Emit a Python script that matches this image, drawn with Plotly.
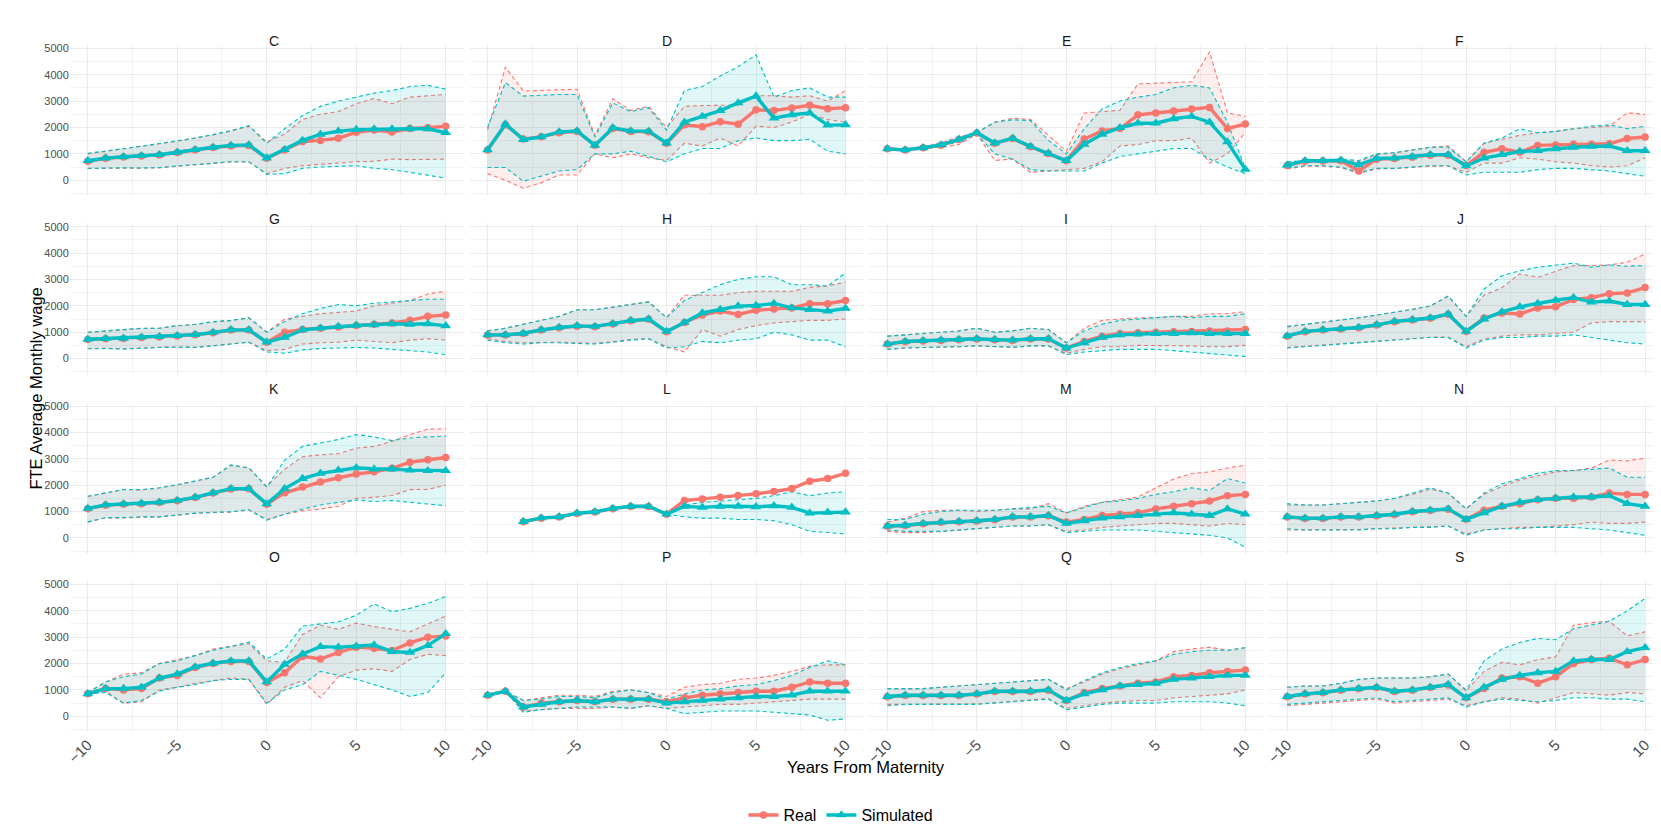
import plotly.graph_objects as go
from plotly.subplots import make_subplots

years = list(range(-10, 11))
facets = ["C", "D", "E", "F", "G", "H", "I", "J", "K", "L", "M", "N", "O", "P", "Q", "S"]
y_ticks = [0, 1000, 2000, 3000, 4000, 5000]
x_ticks = [-10, -5, 0, 5, 10]

# mean / lower / upper per sector, years -10..10
C_real = [720, 830, 880, 920, 960, 1050, 1150, 1240, 1300, 1320, 830, 1150, 1470, 1510, 1590, 1820, 1900, 1830, 1960, 1990, 2050]
C_real_lo = [440, 460, 460, 460, 470, 530, 590, 640, 690, 690, 250, 450, 550, 600, 650, 700, 720, 800, 780, 780, 800]
C_real_hi = [1000, 1090, 1190, 1280, 1380, 1480, 1590, 1720, 1860, 2050, 1450, 1750, 2300, 2500, 2600, 2900, 3100, 2900, 3150, 3200, 3250]
C_sim = [740, 840, 890, 930, 970, 1060, 1160, 1250, 1320, 1340, 840, 1160, 1510, 1740, 1860, 1920, 1940, 1940, 1950, 1950, 1800]
C_sim_lo = [450, 470, 470, 460, 480, 540, 600, 650, 700, 700, 220, 250, 450, 500, 520, 550, 450, 400, 300, 180, 80]
C_sim_hi = [1020, 1100, 1200, 1290, 1390, 1490, 1600, 1730, 1880, 2070, 1400, 1950, 2450, 2800, 3000, 3150, 3300, 3400, 3550, 3600, 3450]

D_real = [1150, 2100, 1560, 1650, 1800, 1850, 1330, 1960, 1850, 1840, 1400, 2100, 2030, 2220, 2120, 2670, 2640, 2740, 2840, 2710, 2750]
D_real_lo = [250, 0, -300, -100, 200, 200, 1000, 850, 1000, 850, 750, 1400, 1300, 1600, 1300, 2050, 2000, 2200, 2500, 2300, 2200]
D_real_hi = [1900, 4290, 3380, 3400, 3420, 3450, 1700, 3090, 2650, 2800, 2000, 2800, 2830, 2830, 2850, 3200, 3200, 3150, 3200, 3000, 3400]
D_sim = [1150, 2130, 1540, 1640, 1830, 1870, 1320, 1990, 1870, 1860, 1410, 2200, 2420, 2640, 2930, 3190, 2350, 2480, 2550, 2090, 2100]
D_sim_lo = [480, 480, -40, 150, 350, 400, 1000, 1000, 1100, 900, 700, 1000, 1200, 1200, 1500, 1600, 1500, 1500, 1550, 1100, 1000]
D_sim_hi = [2000, 3700, 3190, 3220, 3250, 3250, 1640, 2930, 2600, 2750, 1900, 3400, 3550, 3950, 4300, 4750, 3150, 3400, 3500, 3150, 3150]

E_real = [1190, 1150, 1230, 1330, 1540, 1790, 1400, 1580, 1270, 1010, 740, 1560, 1870, 1960, 2480, 2550, 2620, 2700, 2760, 1960, 2130]
E_real_lo = [1150, 1100, 1200, 1250, 1350, 1750, 750, 800, 300, 350, 400, 450, 700, 1300, 1350, 1500, 1500, 1600, 650, 1000, 1800]
E_real_hi = [1200, 1150, 1250, 1420, 1650, 1800, 2200, 2350, 2300, 1700, 1100, 2550, 2610, 2650, 3650, 3670, 3700, 3730, 4870, 2550, 2420]
E_sim = [1190, 1150, 1230, 1340, 1550, 1800, 1410, 1590, 1280, 1020, 740, 1360, 1740, 1990, 2160, 2160, 2330, 2420, 2200, 1450, 410]
E_sim_lo = [1150, 1100, 1200, 1300, 1450, 1750, 1000, 800, 400, 350, 350, 350, 650, 900, 1000, 1100, 1200, 1200, 800, 500, 250]
E_sim_hi = [1200, 1150, 1250, 1400, 1550, 1800, 2200, 2290, 2260, 1510, 1000, 1950, 2700, 3000, 3150, 3250, 3500, 3600, 3500, 2200, 450]

F_real = [560, 720, 730, 740, 350, 800, 820, 870, 950, 950, 560, 1060, 1190, 1060, 1320, 1340, 1360, 1360, 1380, 1580, 1640]
F_real_lo = [430, 530, 530, 480, 250, 430, 440, 480, 530, 540, 300, 650, 650, 850, 800, 700, 650, 550, 500, 550, 850]
F_real_hi = [650, 720, 740, 780, 700, 980, 1030, 1130, 1250, 1300, 700, 1400, 1550, 1700, 1800, 1850, 1950, 2000, 2050, 2550, 2500]
F_sim = [570, 740, 740, 760, 580, 830, 840, 890, 970, 970, 540, 840, 970, 1090, 1120, 1190, 1250, 1280, 1300, 1120, 1120]
F_sim_lo = [450, 550, 550, 500, 300, 450, 450, 500, 550, 550, 200, 300, 300, 300, 400, 450, 450, 400, 350, 250, 150]
F_sim_hi = [700, 750, 750, 800, 750, 1000, 1050, 1150, 1250, 1250, 700, 1400, 1600, 1950, 1800, 1850, 1950, 2050, 2100, 1950, 2050]

G_real = [720, 750, 760, 800, 820, 860, 900, 980, 1080, 1080, 620, 1000, 1100, 1150, 1200, 1250, 1300, 1350, 1450, 1600, 1650]
G_real_lo = [380, 390, 370, 410, 430, 440, 430, 490, 560, 630, 300, 350, 550, 600, 620, 700, 650, 600, 700, 750, 700]
G_real_hi = [990, 1040, 1090, 1140, 1150, 1240, 1290, 1390, 1440, 1540, 1000, 1500, 1600, 1700, 1750, 1800, 2000, 2100, 2200, 2450, 2550]
G_sim = [730, 760, 770, 810, 830, 870, 910, 990, 1090, 1090, 620, 800, 1090, 1150, 1220, 1260, 1280, 1320, 1300, 1320, 1240]
G_sim_lo = [370, 380, 360, 400, 420, 430, 420, 480, 550, 620, 250, 200, 330, 380, 400, 420, 400, 350, 300, 250, 150]
G_sim_hi = [1000, 1050, 1100, 1150, 1150, 1250, 1300, 1400, 1450, 1550, 1000, 1400, 1700, 1900, 2050, 2000, 2100, 2150, 2200, 2250, 2250]

H_real = [890, 890, 950, 1080, 1170, 1230, 1210, 1310, 1430, 1490, 1020, 1370, 1650, 1800, 1670, 1830, 1880, 1920, 2080, 2080, 2200]
H_real_lo = [750, 650, 600, 620, 620, 600, 580, 640, 720, 760, 450, 250, 1100, 850, 1100, 1250, 1350, 1400, 1450, 1450, 1500]
H_real_hi = [1050, 1150, 1300, 1450, 1600, 1850, 1850, 1950, 2050, 2150, 1550, 2400, 2400, 2400, 2500, 2550, 2550, 2550, 2700, 2750, 2900]
H_sim = [900, 900, 960, 1090, 1180, 1240, 1220, 1320, 1440, 1500, 1030, 1370, 1730, 1860, 1990, 2010, 2090, 1920, 1860, 1800, 1900]
H_sim_lo = [700, 600, 550, 600, 600, 580, 550, 620, 700, 750, 400, 450, 650, 600, 700, 750, 1000, 900, 700, 700, 450]
H_sim_hi = [1050, 1150, 1300, 1450, 1600, 1850, 1850, 1950, 2050, 2150, 1550, 2200, 2500, 2800, 3000, 3100, 3100, 2800, 2800, 2750, 3250]

I_real = [550, 640, 670, 690, 710, 740, 710, 690, 740, 740, 400, 650, 850, 950, 980, 1000, 1020, 1030, 1050, 1050, 1100]
I_real_lo = [350, 400, 420, 430, 450, 480, 450, 430, 480, 480, 200, 350, 450, 450, 500, 500, 500, 480, 450, 450, 500]
I_real_hi = [850, 900, 950, 1000, 1050, 1150, 1000, 1050, 1150, 1100, 600, 1150, 1450, 1500, 1550, 1550, 1600, 1600, 1700, 1700, 1780]
I_sim = [550, 650, 680, 700, 720, 750, 720, 700, 750, 750, 400, 600, 800, 900, 930, 950, 950, 970, 950, 950, 950]
I_sim_lo = [350, 400, 420, 430, 450, 480, 450, 430, 480, 480, 150, 250, 300, 350, 350, 350, 300, 250, 200, 150, 80]
I_sim_hi = [850, 900, 950, 1000, 1050, 1150, 1000, 1050, 1150, 1100, 600, 1050, 1300, 1450, 1500, 1550, 1600, 1550, 1600, 1600, 1700]

J_real = [850, 1020, 1080, 1120, 1170, 1270, 1400, 1460, 1530, 1680, 1030, 1540, 1730, 1690, 1920, 1960, 2240, 2310, 2460, 2490, 2690]
J_real_lo = [420, 470, 510, 560, 610, 660, 710, 760, 810, 820, 450, 750, 850, 900, 900, 950, 1000, 1350, 1400, 1400, 1400]
J_real_hi = [1200, 1290, 1390, 1460, 1540, 1640, 1740, 1860, 1990, 2350, 1600, 2400, 2690, 3210, 3080, 3300, 3530, 3530, 3550, 3650, 3970]
J_sim = [860, 1030, 1090, 1130, 1180, 1280, 1410, 1470, 1540, 1690, 1030, 1500, 1770, 1960, 2090, 2210, 2310, 2140, 2180, 2050, 2050]
J_sim_lo = [400, 450, 500, 550, 600, 650, 700, 750, 800, 800, 400, 700, 800, 800, 850, 850, 900, 800, 700, 600, 550]
J_sim_hi = [1220, 1300, 1400, 1470, 1550, 1650, 1750, 1870, 2000, 2370, 1600, 2630, 3140, 3330, 3460, 3550, 3620, 3460, 3550, 3500, 3530]

K_real = [1110, 1240, 1280, 1300, 1340, 1410, 1530, 1700, 1850, 1860, 1280, 1710, 1930, 2120, 2280, 2420, 2510, 2640, 2870, 2960, 3050]
K_real_lo = [610, 760, 760, 790, 800, 860, 930, 960, 980, 1060, 700, 900, 1030, 1090, 1200, 1500, 1540, 1610, 1830, 1840, 2000]
K_real_hi = [1570, 1690, 1830, 1820, 1890, 2010, 2140, 2290, 2750, 2650, 1950, 2600, 3080, 3150, 3190, 3400, 3470, 3660, 3920, 4120, 4140]
K_sim = [1120, 1250, 1290, 1310, 1350, 1420, 1540, 1710, 1870, 1870, 1290, 1870, 2250, 2450, 2570, 2660, 2610, 2610, 2570, 2550, 2550]
K_sim_lo = [600, 770, 770, 800, 800, 860, 940, 970, 990, 1070, 670, 900, 1090, 1250, 1350, 1440, 1380, 1420, 1350, 1290, 1220]
K_sim_hi = [1580, 1700, 1840, 1830, 1900, 2020, 2150, 2300, 2770, 2660, 1930, 2950, 3470, 3600, 3730, 3920, 3830, 3690, 3790, 3830, 3860]

L_real = [None, None, 610, 750, 790, 930, 980, 1110, 1190, 1190, 900, 1420, 1480, 1540, 1610, 1670, 1760, 1870, 2150, 2250, 2450]
L_real_lo = [None, None, None, None, None, None, None, None, None, None, None, None, None, None, None, None, None, None, None, None, None]
L_real_hi = [None, None, None, None, None, None, None, None, None, None, None, None, None, None, None, None, None, None, None, None, None]
L_sim = [None, None, 620, 760, 800, 940, 990, 1120, 1200, 1200, 900, 1200, 1160, 1200, 1200, 1180, 1220, 1160, 940, 970, 980]
L_sim_lo = [None, None, None, None, None, None, None, None, None, None, 900, 800, 750, 750, 700, 700, 650, 500, 250, 200, 150]
L_sim_hi = [None, None, None, None, None, None, None, None, None, None, 950, 1250, 1350, 1400, 1450, 1500, 1600, 1750, 1600, 1700, 1750]

M_real = [440, 470, 540, 590, 610, 640, 690, 790, 790, 840, 600, 700, 850, 900, 950, 1100, 1200, 1300, 1400, 1600, 1650]
M_real_lo = [250, 200, 200, 250, 300, 350, 400, 450, 450, 500, 250, 300, 400, 450, 500, 550, 550, 500, 450, 550, 500]
M_real_hi = [600, 750, 1000, 1050, 1050, 1000, 1050, 1100, 1100, 1300, 950, 1200, 1350, 1450, 1550, 1900, 2230, 2440, 2500, 2650, 2760]
M_sim = [450, 480, 550, 600, 620, 650, 700, 800, 800, 850, 550, 650, 750, 800, 850, 900, 950, 900, 850, 1100, 900]
M_sim_lo = [300, 250, 250, 250, 300, 350, 400, 450, 450, 500, 200, 250, 300, 300, 300, 250, 200, 150, 100, 0, -350]
M_sim_hi = [700, 700, 900, 1000, 1050, 1050, 1050, 1100, 1150, 1200, 950, 1150, 1350, 1400, 1500, 1650, 1750, 1900, 1800, 2250, 2080]

N_real = [790, 740, 740, 790, 790, 840, 890, 990, 1040, 1090, 710, 1050, 1200, 1300, 1450, 1500, 1500, 1550, 1700, 1650, 1650]
N_real_lo = [300, 300, 300, 300, 320, 350, 370, 400, 420, 450, 150, 300, 350, 400, 400, 450, 500, 600, 550, 550, 600]
N_real_hi = [1250, 1250, 1250, 1300, 1350, 1400, 1500, 1650, 1850, 1700, 1100, 1650, 1950, 2200, 2350, 2500, 2550, 2650, 2950, 2920, 3020]
N_sim = [800, 750, 750, 800, 800, 850, 900, 1000, 1050, 1100, 700, 950, 1200, 1350, 1450, 1500, 1550, 1550, 1600, 1300, 1200]
N_sim_lo = [350, 300, 300, 300, 300, 350, 350, 400, 400, 450, 100, 300, 350, 350, 400, 400, 400, 350, 300, 200, 100]
N_sim_hi = [1300, 1250, 1250, 1300, 1350, 1400, 1500, 1700, 1900, 1700, 1100, 1700, 2050, 2250, 2450, 2550, 2560, 2600, 2650, 2300, 2300]

O_real = [850, 1050, 1000, 1050, 1450, 1550, 1850, 2000, 2080, 2080, 1280, 1650, 2270, 2170, 2420, 2620, 2580, 2490, 2780, 3000, 3040]
O_real_lo = [850, 950, 500, 550, 1000, 1100, 1250, 1350, 1450, 1400, 450, 1100, 1350, 700, 1500, 1750, 1800, 1700, 2150, 2350, 2300]
O_real_hi = [900, 1300, 1600, 1650, 2000, 2150, 2300, 2550, 2650, 2750, 2100, 2050, 3100, 3450, 3300, 3530, 3400, 3300, 3200, 3500, 3800]
O_sim = [850, 1050, 1050, 1100, 1450, 1600, 1870, 2010, 2100, 2100, 1300, 1970, 2360, 2640, 2620, 2650, 2700, 2450, 2420, 2680, 3130]
O_sim_lo = [850, 900, 500, 600, 950, 1100, 1200, 1350, 1400, 1400, 500, 1000, 1200, 1700, 1550, 1400, 1200, 1000, 750, 900, 1650]
O_sim_hi = [900, 1300, 1500, 1600, 2000, 2100, 2300, 2500, 2650, 2810, 2170, 2550, 3420, 3510, 3580, 3830, 4260, 3960, 4090, 4280, 4540]

P_real = [800, 950, 350, 500, 550, 600, 550, 650, 650, 650, 550, 700, 800, 850, 900, 950, 950, 1100, 1300, 1250, 1250]
P_real_lo = [800, 950, 200, 250, 300, 300, 300, 350, 300, 400, 300, 350, 400, 450, 450, 500, 550, 600, 650, 650, 650]
P_real_hi = [800, 950, 600, 700, 800, 800, 750, 950, 1000, 900, 750, 1100, 1200, 1250, 1400, 1450, 1550, 1700, 1900, 1950, 1950]
P_sim = [800, 950, 350, 450, 550, 600, 550, 650, 650, 650, 500, 550, 600, 650, 700, 750, 750, 800, 950, 950, 950]
P_sim_lo = [800, 950, 150, 250, 300, 350, 350, 350, 300, 400, 300, 100, 150, 200, 200, 200, 150, 100, 50, -150, -100]
P_sim_hi = [800, 950, 600, 650, 750, 750, 700, 900, 1000, 900, 650, 850, 1000, 1050, 1150, 1200, 1350, 1550, 1850, 2100, 1950]

Q_real = [740, 790, 790, 790, 790, 840, 940, 940, 940, 990, 600, 900, 1050, 1150, 1250, 1300, 1500, 1550, 1650, 1700, 1750]
Q_real_lo = [450, 450, 450, 450, 450, 470, 520, 570, 620, 670, 300, 400, 500, 550, 600, 600, 700, 750, 800, 850, 1000]
Q_real_hi = [1050, 1050, 1050, 1100, 1150, 1200, 1250, 1300, 1350, 1400, 1050, 1300, 1600, 1800, 1950, 2100, 2450, 2550, 2620, 2500, 2600]
Q_sim = [750, 800, 800, 800, 800, 850, 950, 950, 950, 1000, 600, 850, 1000, 1150, 1200, 1250, 1400, 1450, 1500, 1550, 1550]
Q_sim_lo = [400, 450, 450, 450, 450, 450, 500, 550, 600, 650, 250, 350, 450, 500, 500, 500, 550, 550, 550, 500, 400]
Q_sim_hi = [1050, 1050, 1050, 1100, 1150, 1200, 1250, 1300, 1350, 1400, 1000, 1350, 1650, 1850, 2000, 2100, 2350, 2450, 2500, 2500, 2600]

S_real = [740, 840, 890, 990, 1040, 1090, 940, 990, 1090, 1190, 700, 1050, 1450, 1500, 1250, 1500, 2000, 2150, 2200, 1950, 2150]
S_real_lo = [400, 450, 500, 550, 600, 650, 500, 550, 600, 650, 400, 550, 700, 650, 500, 700, 900, 850, 800, 900, 850]
S_real_hi = [1100, 1150, 1150, 1250, 1400, 1450, 1450, 1450, 1500, 1600, 950, 1700, 2050, 1950, 2150, 2250, 3450, 3550, 3600, 3050, 3200]
S_sim = [750, 850, 900, 1000, 1050, 1100, 950, 1000, 1100, 1200, 700, 1100, 1400, 1550, 1650, 1700, 2100, 2150, 2150, 2450, 2600]
S_sim_lo = [450, 500, 550, 600, 650, 700, 550, 600, 650, 700, 350, 550, 650, 600, 550, 600, 700, 700, 650, 650, 550]
S_sim_hi = [1100, 1150, 1150, 1250, 1400, 1450, 1450, 1450, 1500, 1600, 1000, 2100, 2550, 2800, 2950, 2900, 3320, 3450, 3600, 4000, 4470]

series = {
    "C": (C_real, C_real_lo, C_real_hi, C_sim, C_sim_lo, C_sim_hi),
    "D": (D_real, D_real_lo, D_real_hi, D_sim, D_sim_lo, D_sim_hi),
    "E": (E_real, E_real_lo, E_real_hi, E_sim, E_sim_lo, E_sim_hi),
    "F": (F_real, F_real_lo, F_real_hi, F_sim, F_sim_lo, F_sim_hi),
    "G": (G_real, G_real_lo, G_real_hi, G_sim, G_sim_lo, G_sim_hi),
    "H": (H_real, H_real_lo, H_real_hi, H_sim, H_sim_lo, H_sim_hi),
    "I": (I_real, I_real_lo, I_real_hi, I_sim, I_sim_lo, I_sim_hi),
    "J": (J_real, J_real_lo, J_real_hi, J_sim, J_sim_lo, J_sim_hi),
    "K": (K_real, K_real_lo, K_real_hi, K_sim, K_sim_lo, K_sim_hi),
    "L": (L_real, L_real_lo, L_real_hi, L_sim, L_sim_lo, L_sim_hi),
    "M": (M_real, M_real_lo, M_real_hi, M_sim, M_sim_lo, M_sim_hi),
    "N": (N_real, N_real_lo, N_real_hi, N_sim, N_sim_lo, N_sim_hi),
    "O": (O_real, O_real_lo, O_real_hi, O_sim, O_sim_lo, O_sim_hi),
    "P": (P_real, P_real_lo, P_real_hi, P_sim, P_sim_lo, P_sim_hi),
    "Q": (Q_real, Q_real_lo, Q_real_hi, Q_sim, Q_sim_lo, Q_sim_hi),
    "S": (S_real, S_real_lo, S_real_hi, S_sim, S_sim_lo, S_sim_hi),
}

RED = "#F8766D"
TEAL = "#00BFC4"
RED_FILL = "rgba(248,118,109,0.12)"
TEAL_FILL = "rgba(0,191,196,0.12)"
FONT = "Liberation Sans, Arial, sans-serif"

W, H = 1661, 830
col_left = [57, 458, 859, 1260]
row_top = [34, 213, 393, 572]
pw, ph = 395, 152


def keep(vals):
    xs = [x for x, v in zip(years, vals) if v is not None]
    ys = [v for v in vals if v is not None]
    return xs, ys


def add_ribbon(fig, lo, hi, color, fill, r, c):
    if all(v is None for v in lo):
        return
    xl, yl = keep(lo)
    xh, yh = keep(hi)
    line = dict(color=color, width=1.1, dash="4px,3px")
    fig.add_trace(go.Scatter(x=xl, y=yl, mode="lines", line=line, showlegend=False,
                             hoverinfo="skip"), row=r, col=c)
    fig.add_trace(go.Scatter(x=xh, y=yh, mode="lines", line=line, fill="tonexty",
                             fillcolor=fill, showlegend=False, hoverinfo="skip"), row=r, col=c)


fig = make_subplots(rows=4, cols=4, shared_xaxes=True, shared_yaxes=True)

for i, f in enumerate(facets):
    r, c = i // 4 + 1, i % 4 + 1
    real, real_lo, real_hi, sim, sim_lo, sim_hi = series[f]
    add_ribbon(fig, real_lo, real_hi, RED, RED_FILL, r, c)
    add_ribbon(fig, sim_lo, sim_hi, TEAL, TEAL_FILL, r, c)
    fig.add_trace(go.Scatter(x=years, y=real, mode="lines+markers", name="Real",
                             line=dict(color=RED, width=3.4),
                             marker=dict(symbol="circle", size=7.5, color=RED),
                             showlegend=(i == 0), legendgroup="real"), row=r, col=c)
    fig.add_trace(go.Scatter(x=years, y=sim, mode="lines+markers", name="Simulated",
                             line=dict(color=TEAL, width=3.4),
                             marker=dict(symbol="triangle-up", size=9.5, color=TEAL),
                             showlegend=(i == 0), legendgroup="sim"), row=r, col=c)

    x0 = col_left[c - 1]
    y0 = row_top[r - 1]
    fig.update_xaxes(domain=[x0 / W, (x0 + pw) / W], row=r, col=c)
    fig.update_yaxes(domain=[1 - (y0 + ph) / H, 1 - y0 / H], row=r, col=c)
    fig.add_annotation(text=f, x=(x0 + pw / 2) / W, y=1 - (y0 - 14) / H, xref="paper", yref="paper",
                       showarrow=False, font=dict(family=FONT, size=14, color="#1A1A1A"))

fig.update_xaxes(range=[-11, 11], tickvals=x_ticks, tickangle=-45, zeroline=False,
                 showgrid=True, gridcolor="#EBEBEB", gridwidth=1.1,
                 minor=dict(dtick=2.5, tick0=0, showgrid=True, gridcolor="#F2F2F2", gridwidth=0.6),
                 tickfont=dict(family=FONT, size=15, color="#4D4D4D"), showline=False)
fig.update_yaxes(range=[-610, 5130], tickvals=y_ticks, zeroline=False,
                 showgrid=True, gridcolor="#EBEBEB", gridwidth=1.1,
                 minor=dict(dtick=500, tick0=0, showgrid=True, gridcolor="#F2F2F2", gridwidth=0.6),
                 tickfont=dict(family=FONT, size=11, color="#4D4D4D"), showline=False)

fig.add_annotation(text="FTE Average Monthly wage", x=12 / W, y=1 - 379 / H, xref="paper", yref="paper",
                   textangle=-90, showarrow=False, font=dict(family=FONT, size=16.5, color="black"))
fig.add_annotation(text="Years From Maternity", x=856 / W, y=1 - 770 / H, xref="paper", yref="paper",
                   showarrow=False, font=dict(family=FONT, size=16.5, color="black"))

fig.update_layout(
    width=W, height=H, margin=dict(l=0, r=0, t=0, b=0),
    plot_bgcolor="white", paper_bgcolor="white",
    legend=dict(orientation="h", x=0.5, xanchor="center", y=1 - 807 / H, yanchor="middle",
                font=dict(family=FONT, size=16, color="black"), itemwidth=30),
)

fig.write_html("out.html")
